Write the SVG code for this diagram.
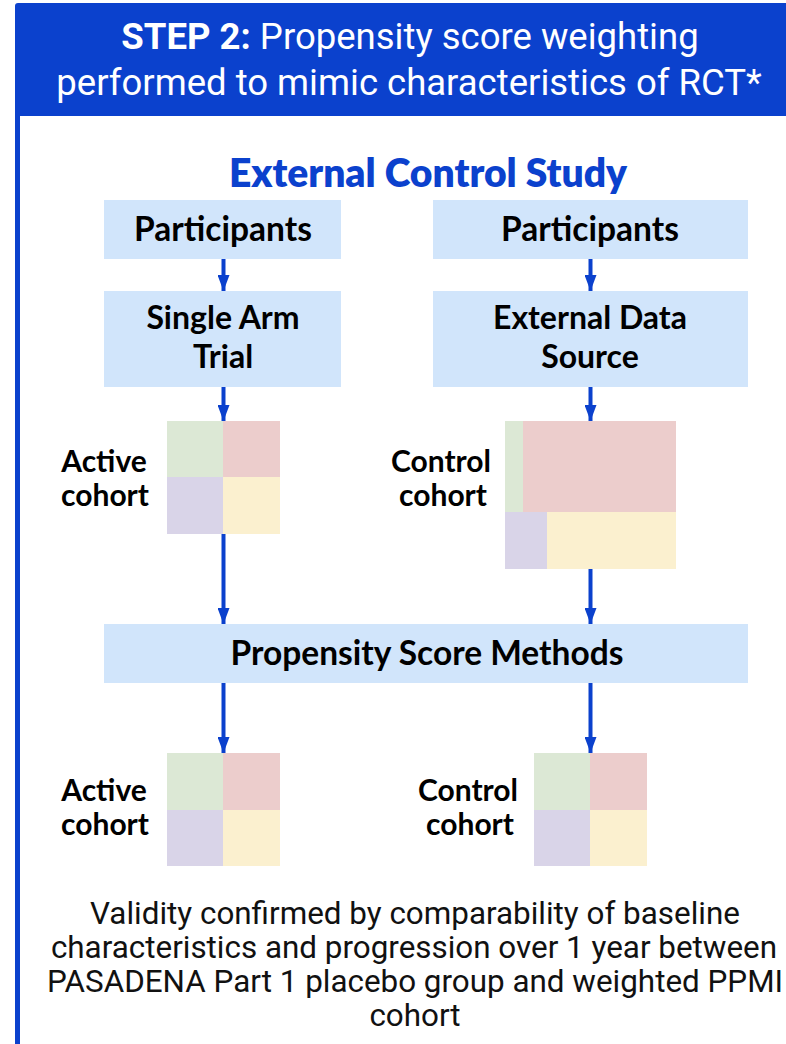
<svg xmlns="http://www.w3.org/2000/svg" width="786" height="1044" viewBox="0 0 786 1044">
  <defs>
    <style>
      .box { fill: #d1e5fb; }
      .lbl { font-family: Lato, "Liberation Sans", sans-serif; font-weight: 700; font-size: 33.5px; fill: #000; text-anchor: middle; }
      .lbl2 { font-family: Lato, "Liberation Sans", sans-serif; font-weight: 700; font-size: 32px; fill: #000; text-anchor: middle; }
      .coh { font-family: Lato, "Liberation Sans", sans-serif; font-weight: 700; font-size: 30px; fill: #000; text-anchor: middle; }
      .hdr { font-family: Roboto, "Liberation Sans", sans-serif; font-size: 36.5px; fill: #fff; text-anchor: middle; }
      .note { font-family: Roboto, "Liberation Sans", sans-serif; font-size: 31.4px; fill: #111; text-anchor: middle; }
      .title { font-family: Lato, "Liberation Sans", sans-serif; font-weight: 800; font-size: 39px; fill: #0b41cd; text-anchor: middle; }
      .link { stroke: #0b41cd; stroke-width: 4; fill: none; marker-end: url(#head); }
      .g { fill: #dce8d5; } .r { fill: #eccdcc; } .p { fill: #d9d4e8; } .y { fill: #fbf0cf; }
    </style>
    <marker id="head" viewBox="0 0 16 12" refX="16" refY="6" markerWidth="16" markerHeight="12" markerUnits="userSpaceOnUse" orient="auto">
      <path d="M0,0 L16,6 L0,12 Z" fill="#0b41cd"/>
    </marker>
  </defs>

  <!-- frame: header band and left rule -->
  <g id="header">
    <path d="M15,116 V6 Q15,3 18,3 H786 V116 Z" fill="#0b41cd"/>
    <rect x="15" y="116" width="5" height="928" fill="#0b41cd"/>
    <text class="hdr" x="410" y="49"><tspan font-weight="700">STEP 2:</tspan> Propensity score weighting</text>
    <text class="hdr" x="409" y="95">performed to mimic characteristics of RCT*</text>
  </g>

  <text id="study-title" class="title" x="428" y="187">External Control Study</text>

  <g id="participants-left">
    <rect class="box" x="104" y="200" width="237" height="59"/>
    <text class="lbl" x="223" y="241">Participants</text>
  </g>
  <g id="participants-right">
    <rect class="box" x="433" y="200" width="315" height="59"/>
    <text class="lbl" x="590" y="241">Participants</text>
  </g>
  <g id="single-arm-trial">
    <rect class="box" x="104" y="291" width="237" height="96"/>
    <text class="lbl2" x="223" y="329">Single Arm</text>
    <text class="lbl2" x="223" y="368">Trial</text>
  </g>
  <g id="external-data-source">
    <rect class="box" x="433" y="291" width="315" height="96"/>
    <text class="lbl2" x="590" y="329">External Data</text>
    <text class="lbl2" x="590" y="368">Source</text>
  </g>

  <g id="active-cohort-before">
    <text class="coh" x="104" y="472">Active</text>
    <text class="coh" x="105" y="506">cohort</text>
    <rect class="g" x="167" y="421" width="56" height="56"/>
    <rect class="r" x="223" y="421" width="57" height="56"/>
    <rect class="p" x="167" y="477" width="56" height="57"/>
    <rect class="y" x="223" y="477" width="57" height="57"/>
  </g>
  <g id="control-cohort-before">
    <text class="coh" x="441" y="472">Control</text>
    <text class="coh" x="443" y="506">cohort</text>
    <rect class="g" x="505" y="421" width="18" height="91"/>
    <rect class="r" x="523" y="421" width="153" height="91"/>
    <rect class="p" x="505" y="512" width="42" height="57"/>
    <rect class="y" x="547" y="512" width="129" height="57"/>
  </g>

  <g id="propensity-score-methods">
    <rect class="box" x="104" y="624" width="644" height="59"/>
    <text class="lbl" x="427" y="665">Propensity Score Methods</text>
  </g>

  <g id="active-cohort-after">
    <text class="coh" x="104" y="801">Active</text>
    <text class="coh" x="105" y="835">cohort</text>
    <rect class="g" x="167" y="753" width="56" height="57"/>
    <rect class="r" x="223" y="753" width="57" height="57"/>
    <rect class="p" x="167" y="810" width="56" height="56"/>
    <rect class="y" x="223" y="810" width="57" height="56"/>
  </g>
  <g id="control-cohort-after">
    <text class="coh" x="468" y="801">Control</text>
    <text class="coh" x="470" y="835">cohort</text>
    <rect class="g" x="534" y="753" width="56" height="57"/>
    <rect class="r" x="590" y="753" width="57" height="57"/>
    <rect class="p" x="534" y="810" width="56" height="56"/>
    <rect class="y" x="590" y="810" width="57" height="56"/>
  </g>

  <g id="connectors">
    <line class="link" x1="223.5" y1="259" x2="223.5" y2="291"/>
    <line class="link" x1="590.5" y1="259" x2="590.5" y2="291"/>
    <line class="link" x1="223.5" y1="387" x2="223.5" y2="421"/>
    <line class="link" x1="590.5" y1="387" x2="590.5" y2="421"/>
    <line class="link" x1="223.5" y1="534" x2="223.5" y2="624"/>
    <line class="link" x1="590.5" y1="569" x2="590.5" y2="624"/>
    <line class="link" x1="223.5" y1="683" x2="223.5" y2="753"/>
    <line class="link" x1="590.5" y1="683" x2="590.5" y2="753"/>
  </g>

  <g id="note">
    <text class="note" x="415" y="924">Validity confirmed by comparability of baseline</text>
    <text class="note" x="414" y="958">characteristics and progression over 1 year between</text>
    <text class="note" x="415" y="992">PASADENA Part 1 placebo group and weighted PPMI</text>
    <text class="note" x="415" y="1026">cohort</text>
  </g>
</svg>
